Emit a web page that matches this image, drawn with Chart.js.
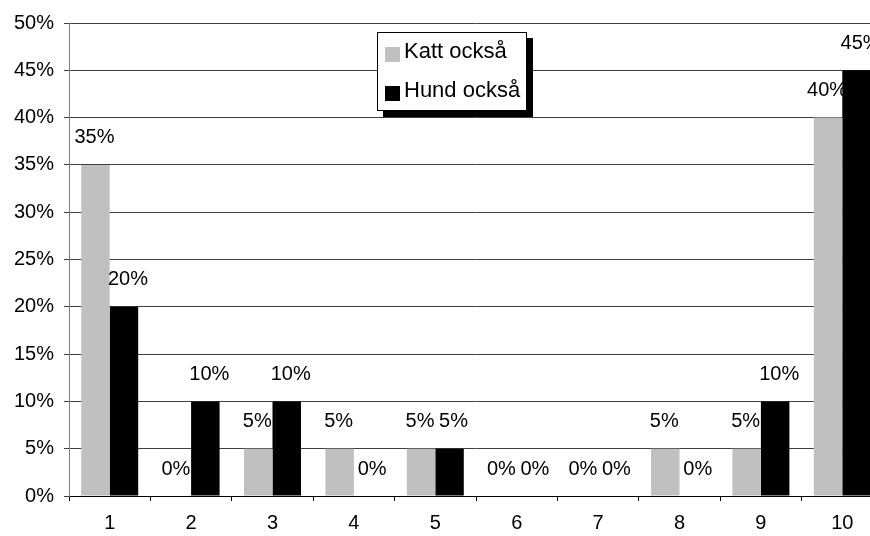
<!DOCTYPE html>
<html>
<head>
<meta charset="utf-8">
<script src="https://cdn.jsdelivr.net/npm/chart.js@4"></script>
<style>
  html, body { margin: 0; padding: 0; background: #ffffff; overflow: hidden; }
  /* the plot runs past the right edge of the window, as in the original */
  #wrap { width: 883px; height: 536px; }
</style>
</head>
<body>
<div id="wrap"><canvas id="chart"></canvas></div>
<script>
const categories = ['1', '2', '3', '4', '5', '6', '7', '8', '9', '10'];
const seriesNames = ['Katt också', 'Hund också'];
const kattValues = [35, 0, 5, 5, 5, 0, 0, 5, 5, 40];
const hundValues = [20, 10, 10, 0, 5, 0, 0, 0, 10, 45];
const yTicks = [0, 5, 10, 15, 20, 25, 30, 35, 40, 45, 50];

const FONT = 'Liberation Sans, Arial, sans-serif';

// value labels above each bar
const barLabels = {
    id: 'barLabels',
    afterDatasetsDraw(chart) {
        const ctx = chart.ctx;
        ctx.save();
        ctx.font = '20px ' + FONT;
        ctx.fillStyle = '#000000';
        ctx.textAlign = 'center';
        ctx.textBaseline = 'middle';
        chart.data.datasets.forEach((ds, i) => {
            const shift = i === 0 ? -1 : 4;  // small gap between neighbouring labels
            chart.getDatasetMeta(i).data.forEach((bar, j) => {
                ctx.fillText(ds.data[j] + '%', bar.x + shift, bar.y - 27);
            });
        });
        ctx.restore();
    }
};

// legend box with a drop shadow
const shadowLegend = {
    id: 'shadowLegend',
    afterDraw(chart) {
        const ctx = chart.ctx;
        const x = 377, y = 32, w = 149, h = 78;
        ctx.save();
        ctx.fillStyle = '#000000';
        ctx.fillRect(x + 6, y + 6, w + 1, h + 1);
        ctx.fillStyle = '#ffffff';
        ctx.fillRect(x, y, w, h);
        ctx.strokeStyle = '#000000';
        ctx.lineWidth = 1;
        ctx.strokeRect(x + 0.5, y + 0.5, w, h);
        ctx.font = '22px ' + FONT;
        ctx.textBaseline = 'middle';
        ctx.textAlign = 'left';
        chart.data.datasets.forEach((ds, i) => {
            const cy = y + 20 + i * 39;
            ctx.fillStyle = ds.backgroundColor;
            ctx.fillRect(x + 8, cy - 5, 15, 15);
            ctx.fillStyle = '#000000';
            ctx.fillText(ds.label, x + 27, cy);
        });
        ctx.restore();
    }
};

new Chart(document.getElementById('chart'), {
    type: 'bar',
    data: {
        labels: categories,
        datasets: [
            { label: seriesNames[0], data: kattValues, backgroundColor: '#c0c0c0' },
            { label: seriesNames[1], data: hundValues, backgroundColor: '#000000' }
        ]
    },
    options: {
        responsive: true,
        maintainAspectRatio: false,
        animation: false,
        layout: { padding: { top: 23, right: 0, bottom: 0, left: 0 } },
        datasets: {
            bar: { categoryPercentage: 0.70, barPercentage: 1.0 }
        },
        plugins: {
            legend: { display: false },
            tooltip: { enabled: false }
        },
        scales: {
            x: {
                afterFit: scale => { scale.height = 40; },
                grid: {
                    offset: true,
                    drawOnChartArea: false,
                    drawTicks: true,
                    tickLength: 5,
                    color: '#000000'
                },
                border: { color: '#000000', width: 1 },
                ticks: {
                    color: '#000000',
                    padding: 10,
                    font: { family: FONT, size: 20 }
                }
            },
            y: {
                min: 0,
                max: 50,
                afterFit: scale => { scale.width = 69; },
                afterBuildTicks: scale => {
                    scale.ticks = yTicks.map(v => ({ value: v }));
                },
                grid: {
                    color: '#404040',
                    tickLength: 5,
                    drawTicks: true
                },
                border: { color: '#808080', width: 1 },
                ticks: {
                    color: '#000000',
                    padding: 10,
                    font: { family: FONT, size: 20 },
                    callback: value => value + '%'
                }
            }
        }
    },
    plugins: [barLabels, shadowLegend]
});
</script>
</body>
</html>
